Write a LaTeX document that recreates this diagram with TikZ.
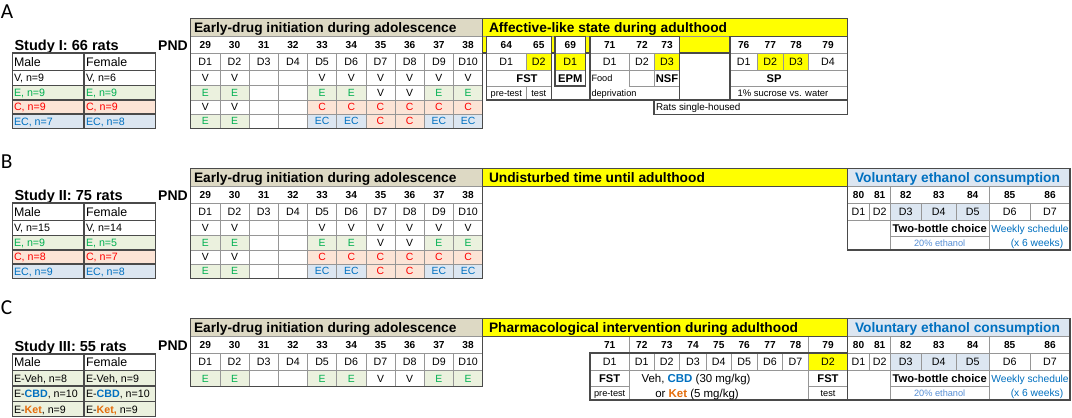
\documentclass[tikz,border=0pt]{standalone}
\usepackage{fontspec}
\setmainfont{Liberation Sans}
\newfontfamily\labfont{Carlito}
\definecolor{beige}{HTML}{DDD9C4}
\definecolor{ylw}{HTML}{FFFF00}
\definecolor{gbg}{HTML}{EBF1DE}
\definecolor{rbg}{HTML}{FCE4D6}
\definecolor{bbg}{HTML}{DCE6F1}
\definecolor{gtx}{HTML}{00B050}
\definecolor{rtx}{HTML}{FF0000}
\definecolor{btx}{HTML}{0070C0}
\definecolor{otx}{HTML}{E46C0A}
\definecolor{ltx}{HTML}{558ED5}
\definecolor{outc}{HTML}{4A4A4A}
\definecolor{inc}{HTML}{969696}
\tikzset{
 tx0/.style={inner sep=0pt, outer sep=0pt, text depth=0pt},
 tcell/.style={tx0, font=\fontsize{7.8}{9}\selectfont, text height=5.6pt},
 tD/.style={tx0, font=\fontsize{8}{9}\selectfont, text height=5.75pt},
 tnum/.style={tx0, font=\bfseries\fontsize{7.6}{9}\selectfont, text height=5.45pt},
 thdr/.style={tx0, anchor=west, font=\bfseries\fontsize{10.3}{12}\selectfont, text height=7.4pt},
 tbold/.style={tx0, font=\bfseries\fontsize{8.4}{10}\selectfont, text height=6pt},
 tsmall/.style={tx0, font=\fontsize{6.9}{8}\selectfont, text height=4.95pt},
 tsmallw/.style={tsmall, anchor=west},
 tmid/.style={tx0, font=\fontsize{7.7}{9}\selectfont, text height=5.5pt},
 tveh/.style={tx0, font=\fontsize{8.6}{10}\selectfont, text height=6.15pt},
 tleft/.style={tx0, anchor=west, font=\fontsize{8}{9}\selectfont, text height=5.75pt},
 tmf/.style={tx0, anchor=west, font=\fontsize{9.3}{11}\selectfont, text height=6.65pt},
 ttitle/.style={tx0, anchor=west, font=\bfseries\fontsize{10.9}{13}\selectfont, text height=7.8pt},
 tpnd/.style={tx0, font=\bfseries\fontsize{10.5}{12}\selectfont, text height=7.5pt},
 tlab/.style={tx0, anchor=west, font=\labfont\fontsize{16}{18}\selectfont, text height=10.3pt},
 boxline/.style={draw=outc, line width=0.8pt},
 gridline/.style={draw=inc, line width=0.5pt},
}
% early-drug header, numbers and D row
\newcommand{\earlyhead}[1]{%
  \path[fill=beige] (190.7,18.5) rectangle (482.7,36.7);
  \node[thdr] (#1-eh) at (194,27.6) {Early-drug initiation during adolescence};
  \foreach \n [count=\i from 0] in {29,...,38}{\node[tnum] (#1-n\n) at ({205.3+29.2*\i},45) {\n};}
  \foreach \i in {1,...,10}{\node[tD] (#1-d\i) at ({190.7+29.2*(\i-0.5)},61.8) {D\i};}
}
% early-drug row of cells
\newcommand{\erow}[4]{%
  \foreach \fl/\tx/\cl [count=\i from 0] in {#4}{%
    \path[fill=\fl] ({190.7+29.2*\i},#2) rectangle ({190.7+29.2*(\i+1)},#3);
    \node[tcell,text=\cl] (#1-\i) at ({190.7+29.2*(\i+0.5)},{(#2+#3)/2}) {\tx};
  }%
}
% early-drug grid: #1 bottom, #2 horizontal lines
\newcommand{\egrid}[2]{%
  \foreach \i in {1,...,9}{\draw[gridline] ({190.7+29.2*\i},53) -- ({190.7+29.2*\i},#1);}
  \foreach \yy in {#2}{\draw[gridline] (190.7,\yy) -- (482.7,\yy);}
  \draw[gridline] (190.7,36.7) -- (482.7,36.7) (190.7,53) -- (482.7,53);
  \draw[boxline] (190.7,18.5) rectangle (482.7,#1);
}
% voluntary ethanol block
\newcommand{\voluntary}[1]{%
  \path[fill=bbg] (847.7,18.5) rectangle (1070,36.7);
  \node[thdr,text=btx] (#1-vh) at (855,27.6) {Voluntary ethanol consumption};
  \path[fill=white] (847.7,36.7) rectangle (1070,100);
  \path[fill=bbg] (890,53) rectangle (989.3,70.5);
  \foreach \n/\x in {80/858.5,81/879.7,82/905.8,83/938.8,84/972.7,85/1009.7,86/1050}{\node[tnum] (#1-vn\n) at (\x,45) {\n};}
  \foreach \x [count=\k] in {858.5,879.7,905.8,938.8,972.7,1009.7,1050}{\node[tD] (#1-vd\k) at (\x,61.8) {D\k};}
  \draw[gridline] (847.7,36.7) -- (1070,36.7) (847.7,53) -- (1070,53) (847.7,70.5) -- (1070,70.5) (890,86) -- (989.3,86);
  \draw[gridline] (869.3,53) -- (869.3,70.5) (921.7,53) -- (921.7,70.5) (956,53) -- (956,70.5) (1030,53) -- (1030,70.5);
  \draw[gridline] (890,36.7) -- (890,100) (989.3,36.7) -- (989.3,100);
  \node[tbold] (#1-tb) at (939.7,78.4) {Two-bottle choice};
  \node[tsmall,text=ltx] (#1-et) at (939.7,93.3) {20\% ethanol};
  \node[tmid,text=btx] (#1-ws) at (1030,78.4) {Weekly schedule};
  \node[tmid,text=btx] (#1-wk) at (1037,93.3) {(x 6 weeks)};
  \draw[boxline] (847.7,18.5) rectangle (1070,100);
}
\begin{document}
\begin{tikzpicture}[x=0.75pt,y=-0.75pt]
\useasboundingbox[fill=white] (0,0) rectangle (1072,418);

%================ PANEL A ================
\node[tlab] (labA) at (1,11.7) {A};
\node[ttitle] (titA) at (14.5,45.7) {Study I: 66 rats};
\node[tpnd] (pndA) at (173,45) {PND};
% left table
\path[fill=gbg] (12.3,85.5) rectangle (155.7,100);
\path[fill=rbg] (12.3,100) rectangle (155.7,114);
\path[fill=bbg] (12.3,114) rectangle (155.7,128.3);
\draw[boxline] (12.3,70.5) -- (155.7,70.5) (12.3,85.5) -- (155.7,85.5) (12.3,100) -- (155.7,100) (12.3,114) -- (155.7,114) (84,53) -- (84,128.3);
\draw[boxline] (12.3,53) rectangle (155.7,128.3);
\node[tmf] (aM) at (14,61.8) {Male};
\node[tmf] (aF) at (86,61.8) {Female};
\node[tleft] (aM1) at (14,78) {V, n=9};
\node[tleft] (aF1) at (86,78) {V, n=6};
\node[tleft,text=gtx] (aM2) at (14,92.75) {E, n=9};
\node[tleft,text=gtx] (aF2) at (86,92.75) {E, n=9};
\node[tleft,text=rtx] (aM3) at (14,107) {C, n=9};
\node[tleft,text=rtx] (aF3) at (86,107) {C, n=9};
\node[tleft,text=btx] (aM4) at (14,121.2) {EC, n=7};
\node[tleft,text=btx] (aF4) at (86,121.2) {EC, n=8};
% early drug
\earlyhead{a}
\erow{a1}{70.5}{85.5}{white/V/black,white/V/black,white//black,white//black,white/V/black,white/V/black,white/V/black,white/V/black,white/V/black,white/V/black}
\erow{a2}{85.5}{100}{gbg/E/gtx,gbg/E/gtx,white//black,white//black,gbg/E/gtx,gbg/E/gtx,white/V/black,white/V/black,gbg/E/gtx,gbg/E/gtx}
\erow{a3}{100}{114}{white/V/black,white/V/black,white//black,white//black,rbg/C/rtx,rbg/C/rtx,rbg/C/rtx,rbg/C/rtx,rbg/C/rtx,rbg/C/rtx}
\erow{a4}{114}{128.3}{gbg/E/gtx,gbg/E/gtx,white//black,white//black,bbg/EC/btx,bbg/EC/btx,rbg/C/rtx,rbg/C/rtx,bbg/EC/btx,bbg/EC/btx}
\egrid{128.3}{70.5,85.5,100,114}
% affective block
\path[fill=ylw] (482.7,18.5) rectangle (847.7,53);
\node[thdr] (aAh) at (489,27.6) {Affective-like state during adulthood};
\draw[gridline] (482.7,36.7) -- (847.7,36.7);
\draw[boxline] (482.7,18.5) rectangle (847.7,53);
% FST box
\path[fill=white] (486.7,36.7) rectangle (551.7,100);
\path[fill=ylw] (526,53) rectangle (551.7,70.5);
\draw[gridline] (486.7,53) -- (551.7,53) (486.7,70.5) -- (551.7,70.5) (526,53) -- (526,70.5) (486.7,86) -- (551.7,86) (526,86) -- (526,100);
\draw[boxline] (486.7,36.7) rectangle (551.7,100);
% EPM box
\path[fill=white] (555,36.7) rectangle (585.7,86);
\path[fill=ylw] (555,53) rectangle (585.7,70.5);
\draw[gridline] (555,53) -- (585.7,53) (555,70.5) -- (585.7,70.5);
\draw[boxline] (555,36.7) rectangle (585.7,86);
\draw[boxline] (551.7,100) -- (590,100);
% NSF box
\path[fill=white] (590,36.7) rectangle (679.3,100);
\path[fill=ylw] (654.7,53) rectangle (679.3,70.5);
\draw[gridline] (590,53) -- (679.3,53) (590,70.5) -- (679.3,70.5) (629.3,53) -- (629.3,86) (654.7,53) -- (654.7,86) (629.3,86) -- (679.3,86);
\draw[boxline] (590,36.7) rectangle (679.3,100);
% empty cell
\path[fill=white] (679.3,53) rectangle (730,100);
\draw[boxline] (679.3,53) rectangle (730,100);
% SP box
\path[fill=white] (730,36.7) rectangle (847.7,100);
\path[fill=ylw] (757.3,53) rectangle (808.3,70.5);
\draw[gridline] (730,53) -- (847.7,53) (730,70.5) -- (847.7,70.5) (730,86) -- (847.7,86) (757.3,53) -- (757.3,70.5) (783.5,53) -- (783.5,70.5) (808.3,53) -- (808.3,70.5);
\draw[boxline] (730,36.7) rectangle (847.7,100);
% single housed
\draw[boxline] (654,100) rectangle (847.7,114.5);
% texts
\foreach \n/\x in {64/506.3,65/538.8,69/570.3,71/609.7,72/642,73/667,76/743.7,77/770.3,78/796,79/828}{\node[tnum] (aN\n) at (\x,45) {\n};}
\foreach \d/\x [count=\k] in {D1/506.3,D2/538.8,D1/570.3,D1/609.7,D2/642,D3/667,D1/743.7,D2/770.3,D3/796,D4/828}{\node[tD] (aD\k) at (\x,61.8) {\d};}
\node[tbold] (aFST) at (527,78.3) {FST};
\node[tsmall] (aPre) at (506.3,93.2) {pre-test};
\node[tsmall] (aTest) at (538.8,93.2) {test};
\node[tbold] (aEPM) at (570.3,78.3) {EPM};
\node[tsmallw] (aFood) at (591.5,78.3) {Food};
\node[tsmallw] (aDep) at (591.5,93.2) {deprivation};
\node[tbold] (aNSF) at (667,78.3) {NSF};
\node[tbold] (aSP) at (774,78.3) {SP};
\node[tsmallw,font=\fontsize{7.1}{8}\selectfont] (aSuc) at (737.5,93.2) {1\% sucrose vs. water};
\node[tsmallw,font=\fontsize{7.4}{8}\selectfont] (aRats) at (656,107.3) {Rats single-housed};

%================ PANEL B ================
\begin{scope}[shift={(0,150)}]
\node[tlab] (labB) at (1,11.7) {B};
\node[ttitle] (titB) at (14.5,45.7) {Study II: 75 rats};
\node[tpnd] (pndB) at (173,45) {PND};
\path[fill=gbg] (12.3,85.5) rectangle (155.7,100);
\path[fill=rbg] (12.3,100) rectangle (155.7,114);
\path[fill=bbg] (12.3,114) rectangle (155.7,128.3);
\draw[boxline] (12.3,70.5) -- (155.7,70.5) (12.3,85.5) -- (155.7,85.5) (12.3,100) -- (155.7,100) (12.3,114) -- (155.7,114) (84,53) -- (84,128.3);
\draw[boxline] (12.3,53) rectangle (155.7,128.3);
\node[tmf] (bM) at (14,61.8) {Male};
\node[tmf] (bF) at (86,61.8) {Female};
\node[tleft] (bM1) at (14,78) {V, n=15};
\node[tleft] (bF1) at (86,78) {V, n=14};
\node[tleft,text=gtx] (bM2) at (14,92.75) {E, n=9};
\node[tleft,text=gtx] (bF2) at (86,92.75) {E, n=5};
\node[tleft,text=rtx] (bM3) at (14,107) {C, n=8};
\node[tleft,text=rtx] (bF3) at (86,107) {C, n=7};
\node[tleft,text=btx] (bM4) at (14,121.2) {EC, n=9};
\node[tleft,text=btx] (bF4) at (86,121.2) {EC, n=8};
\earlyhead{b}
\erow{b1}{70.5}{85.5}{white/V/black,white/V/black,white//black,white//black,white/V/black,white/V/black,white/V/black,white/V/black,white/V/black,white/V/black}
\erow{b2}{85.5}{100}{gbg/E/gtx,gbg/E/gtx,white//black,white//black,gbg/E/gtx,gbg/E/gtx,white/V/black,white/V/black,gbg/E/gtx,gbg/E/gtx}
\erow{b3}{100}{114}{white/V/black,white/V/black,white//black,white//black,rbg/C/rtx,rbg/C/rtx,rbg/C/rtx,rbg/C/rtx,rbg/C/rtx,rbg/C/rtx}
\erow{b4}{114}{128.3}{gbg/E/gtx,gbg/E/gtx,white//black,white//black,bbg/EC/btx,bbg/EC/btx,rbg/C/rtx,rbg/C/rtx,bbg/EC/btx,bbg/EC/btx}
\egrid{128.3}{70.5,85.5,100,114}
\path[fill=ylw] (482.7,18.5) rectangle (847.7,36.7);
\node[thdr] (bUh) at (489,27.6) {Undisturbed time until adulthood};
\draw[boxline] (482.7,18.5) rectangle (847.7,36.7);
\voluntary{b}
\end{scope}

%================ PANEL C ================
\begin{scope}[shift={(0,300)}]
\node[tlab] (labC) at (1,7.5) {C};
\node[ttitle] (titC) at (14.5,46.7) {Study III: 55 rats};
\node[tpnd] (pndC) at (173,45.5) {PND};
\path[fill=gbg] (12.3,70.5) rectangle (155.7,116.7);
\draw[boxline] (12.3,70.5) -- (155.7,70.5) (12.3,86) -- (155.7,86) (12.3,101.7) -- (155.7,101.7) (84,54) -- (84,116.7);
\draw[boxline] (12.3,54) rectangle (155.7,116.7);
\node[tmf] (cM) at (14,62.3) {Male};
\node[tmf] (cF) at (86,62.3) {Female};
\node[tleft] (cM1) at (14,78.3) {E-Veh, n=8};
\node[tleft] (cF1) at (86,78.3) {E-Veh, n=9};
\node[tleft] (cM2) at (14,93.9) {E-\textcolor{btx}{\textbf{CBD}}, n=10};
\node[tleft] (cF2) at (86,93.9) {E-\textcolor{btx}{\textbf{CBD}}, n=10};
\node[tleft] (cM3) at (14,109.2) {E-\textcolor{otx}{\textbf{Ket}}, n=9};
\node[tleft] (cF3) at (86,109.2) {E-\textcolor{otx}{\textbf{Ket,}} n=9};
\earlyhead{c}
\erow{c1}{70.5}{86.5}{gbg/E/gtx,gbg/E/gtx,white//black,white//black,gbg/E/gtx,gbg/E/gtx,white/V/black,white/V/black,gbg/E/gtx,gbg/E/gtx}
\egrid{86.5}{70.5}
% pharmacological block
\path[fill=ylw] (482.7,18.5) rectangle (847.7,36.7);
\node[thdr] (cPh) at (489,27.6) {Pharmacological intervention during adulthood};
\path[fill=white] (590,53) rectangle (847.7,100);
\path[fill=ylw] (808.3,53) rectangle (847.7,70.5);
\draw[gridline] (629.3,36.7) -- (629.3,100) (808.3,36.7) -- (808.3,100) (590,70.5) -- (847.7,70.5) (590,86.5) -- (629.3,86.5) (808.3,86.5) -- (847.7,86.5);
\foreach \x in {654.3,679.3,706.7,731,757.3,782.7}{\draw[gridline] (\x,53) -- (\x,70.5);}
\draw[boxline] (590,53) rectangle (847.7,100);
\draw[boxline] (482.7,18.5) rectangle (847.7,36.7);
\foreach \n/\x in {71/609.7,72/641.8,73/666.8,74/693,75/718.8,76/744.2,77/770,78/795.5,79/828}{\node[tnum] (cN\n) at (\x,45) {\n};}
\node[tD] (cD0) at (609.7,61.8) {D1};
\foreach \x [count=\k] in {641.8,666.8,693,718.8,744.2,770,795.5}{\node[tD] (cDd\k) at (\x,61.8) {D\k};}
\node[tD] (cD9) at (828,61.8) {D2};
\node[tbold] (cFST1) at (609.7,78.5) {FST};
\node[tsmall] (cPre) at (609.7,93.3) {pre-test};
\node[tveh] (cVeh) at (696,78.5) {Veh, \textcolor{btx}{\textbf{CBD}} (30 mg/kg)};
\node[tveh] (cKet) at (697,93.3) {or \textcolor{otx}{\textbf{Ket}} (5 mg/kg)};
\node[tbold] (cFST2) at (828,78.5) {FST};
\node[tsmall] (cTest) at (828,93.3) {test};
\voluntary{c}
\end{scope}
\end{tikzpicture}
\end{document}
